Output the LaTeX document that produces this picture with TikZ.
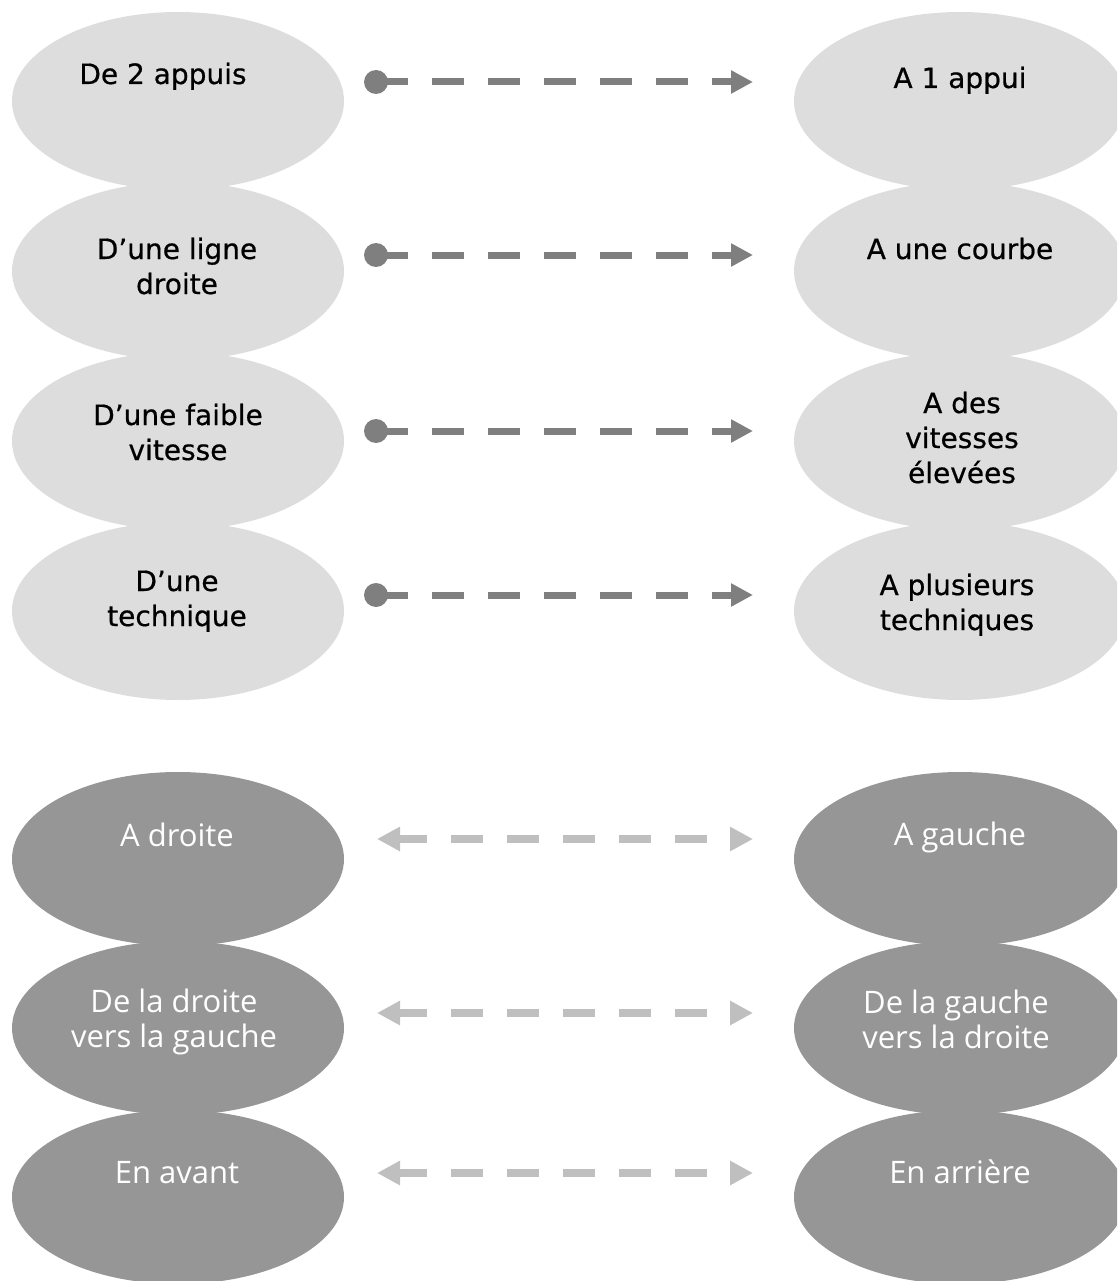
\documentclass[tikz,border=0pt]{standalone}
\usepackage{fontspec}
\newfontfamily\topfont[FakeBold=0.6]{DejaVu Sans}
\newfontfamily\botfont{Open Sans}
\usetikzlibrary{shapes.geometric,arrows.meta}
\definecolor{ovallight}{HTML}{DDDDDD}
\definecolor{ovaldark}{HTML}{969696}
\definecolor{arrowdark}{HTML}{7F7F7F}
\definecolor{arrowlight}{HTML}{BFBFBF}
% centred lines, anchored on the baseline of the first line
\newcommand\linesof[1]{\vtop{\baselineskip=35pt\halign{\hfil##\hfil\cr#1\crcr}}}
\tikzset{
  oval/.style={ellipse, minimum width=332pt, inner sep=0pt},
  lightoval/.style={oval, minimum height=178pt, fill=ovallight},
  darkoval/.style={oval, minimum height=174pt, fill=ovaldark},
  toptext/.style={anchor=base, inner sep=0pt, text=black, font=\topfont\fontsize{28}{35}\selectfont},
  bottext/.style={anchor=base, inner sep=0pt, text=white, font=\botfont\fontsize{31}{35}\selectfont},
  dotstart/.style={circle, fill=arrowdark, minimum size=24pt, inner sep=0pt},
  topconn/.style={draw=arrowdark, line width=7pt, dash pattern=on 32pt off 24pt,
    -{Triangle[length=22pt,width=22pt]}},
  botconn/.style={draw=arrowlight, line width=7.5pt, dash pattern=on 32pt off 24pt, dash phase=4pt,
    {Triangle[length=23pt,width=23pt]}-{Triangle[length=23pt,width=23pt]}}
}
\begin{document}
\begin{tikzpicture}[x=1pt,y=-1pt]
\useasboundingbox (0,0) rectangle (1117,1281);
\clip (0,0) rectangle (1117,1281);

% upper block: ovals
\foreach \n/\y in {1/101,2/271,3/441,4/611}{
  \node[lightoval] (L\n) at (178,\y) {};
  \node[lightoval] (R\n) at (960,\y) {};
}
% lower block: ovals
\foreach \n/\y in {5/859,6/1028,7/1197}{
  \node[darkoval] (L\n) at (178,\y) {};
  \node[darkoval] (R\n) at (960,\y) {};
}

% upper block: labels
\node[toptext] (tL1) at (163,84) {De 2 appuis};
\node[toptext] (tL2) at (177,259) {\linesof{D’une ligne\cr droite}};
\node[toptext] (tL3) at (178,425) {\linesof{D’une faible\cr vitesse}};
\node[toptext] (tL4) at (177,591) {\linesof{D’une\cr technique}};
\node[toptext] (tR1) at (960,88) {A 1 appui};
\node[toptext] (tR2) at (960,259) {A une courbe};
\node[toptext] (tR3) at (962,413) {\linesof{A des\cr vitesses\cr élevées}};
\node[toptext] (tR4) at (957,595) {\linesof{A plusieurs\cr techniques}};

% lower block: labels
\node[bottext] (tL5) at (177,846) {A droite};
\node[bottext] (tL6) at (174,1012) {\linesof{De la droite\cr vers la gauche}};
\node[bottext] (tL7) at (177,1183) {En avant};
\node[bottext] (tR5) at (960,845) {A gauche};
\node[bottext] (tR6) at (956,1013) {\linesof{De la gauche\cr vers la droite}};
\node[bottext] (tR7) at (960,1183) {En arrière};

% upper block: one-way dashed connectors
\foreach \n/\y in {1/82,2/255,3/431,4/595}{
  \coordinate (h\n) at (753,\y);
  \draw[topconn] (376,\y) coordinate (s\n) -- (h\n);
  \node[dotstart] (d\n) at (s\n) {};
}

% lower block: two-way dashed connectors
\foreach \n/\y in {5/839,6/1013,7/1173}{
  \coordinate (a\n) at (377,\y);
  \coordinate (b\n) at (753,\y);
  \draw[botconn] (a\n) -- (b\n);
}
\end{tikzpicture}
\end{document}
